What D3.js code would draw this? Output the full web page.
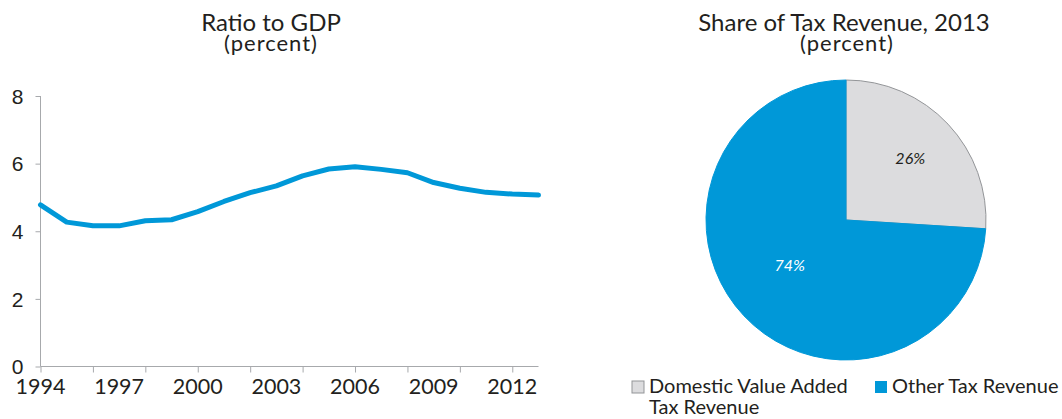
<!DOCTYPE html>
<html>
<head>
<meta charset="utf-8">
<script src="https://d3js.org/d3.v7.min.js"></script>
<style>
  body { margin: 0; background: #fff; font-family: Lato, "Open Sans", sans-serif; }
  text { fill: #231f20; }
</style>
</head>
<body>
<svg id="chart" width="1062" height="419"></svg>
<script>
// line chart data: tax revenue ratio to GDP (percent)
var years = [1994, 1995, 1996, 1997, 1998, 1999, 2000, 2001, 2002, 2003,
             2004, 2005, 2006, 2007, 2008, 2009, 2010, 2011, 2012, 2013];
var ratio = [4.78, 4.27, 4.16, 4.16, 4.31, 4.34, 4.58, 4.88, 5.14, 5.34,
             5.64, 5.84, 5.91, 5.83, 5.73, 5.44, 5.27, 5.15, 5.10, 5.07];
var yTicks = [0, 2, 4, 6, 8];
var xLabelYears = [1994, 1997, 2000, 2003, 2006, 2009, 2012];
var xTickYears = [1994, 1996, 1998, 2000, 2002, 2004, 2006, 2008, 2010, 2012];

// pie data: share of tax revenue 2013
var pieLabels = ["Domestic Value Added Tax Revenue", "Other Tax Revenue"];
var pieValues = [26, 74];
var pieColors = ["#dcdcde", "#0098d8"];

var svg = d3.select("#chart");

// ---- left: line chart ----
var margin = {top: 96, left: 40.5};
var width = 498, height = 270.5;

var g = svg.append("g")
    .attr("transform", "translate(" + margin.left + "," + margin.top + ")");

var x = d3.scaleLinear().domain([1994, 2013]).range([0, width]);
var y = d3.scaleLinear().domain([0, 8]).range([height, 0]);

// y axis
var yAxis = g.append("g")
    .call(d3.axisLeft(y).tickValues(yTicks).tickSize(5).tickPadding(12).tickFormat(d3.format("d")));
yAxis.select(".domain").attr("stroke", "#a7a9ac").attr("d", "M0,0V" + height);
yAxis.selectAll(".tick line").attr("stroke", "#a7a9ac");
yAxis.selectAll("text").style("font-size", "21px").attr("fill", "#231f20")
    .attr("dy", "0.34em");

// x axis ticks
var xAxis = g.append("g")
    .attr("transform", "translate(0," + height + ")")
    .call(d3.axisBottom(x).tickValues(xTickYears).tickSize(6).tickFormat(""));
xAxis.select(".domain").attr("stroke", "#a7a9ac").attr("d", "M0,0H" + width);
xAxis.selectAll(".tick line").attr("stroke", "#a7a9ac");

// x labels every third year
g.append("g").selectAll("text")
  .data(xLabelYears)
  .enter()
  .append("text")
    .attr("x", function(d) { return x(d); })
    .attr("y", height + 27)
    .attr("text-anchor", "middle")
    .style("font-size", "21.5px")
    .text(function(d) { return d; });

// the line
var line = d3.line()
    .x(function(d, i) { return x(years[i]); })
    .y(function(d) { return y(d); });

g.append("path")
    .datum(ratio)
    .attr("fill", "none")
    .attr("stroke", "#0098d8")
    .attr("stroke-width", 5)
    .attr("stroke-linejoin", "round")
    .attr("stroke-linecap", "round")
    .attr("d", line);

// titles
svg.append("text").attr("x", 271).attr("y", 31).attr("text-anchor", "middle")
    .style("font-size", "24px").text("Ratio to GDP");
svg.append("text").attr("x", 271).attr("y", 51).attr("text-anchor", "middle")
    .style("font-size", "22px").style("letter-spacing", "1px").text("(percent)");

// ---- right: pie chart ----
var cx = 846, cy = 220, r = 140;
var pg = svg.append("g").attr("transform", "translate(" + cx + "," + cy + ")");

var pie = d3.pie().sort(null).value(function(d) { return d; });
var arc = d3.arc().innerRadius(0).outerRadius(r);
var arcs = pie(pieValues);

pg.selectAll("path")
  .data(arcs)
  .enter()
  .append("path")
    .attr("d", arc)
    .attr("fill", function(d, i) { return pieColors[i]; })
    .attr("stroke", function(d, i) { return i == 0 ? "#939598" : "#0098d8"; })
    .attr("stroke-width", 1);

var labelArc = d3.arc().innerRadius(r * 0.6).outerRadius(r * 0.6);
var labelShift = [[3, -4], [5, -12]];
pg.selectAll(".plabel")
  .data(arcs)
  .enter()
  .append("text")
    .attr("class", "plabel")
    .attr("transform", function(d, i) {
      var c = labelArc.centroid(d);
      return "translate(" + (c[0] + labelShift[i][0]) + "," + (c[1] + labelShift[i][1]) + ")";
    })
    .attr("text-anchor", "middle")
    .attr("dy", "0.35em")
    .style("font-size", "16px")
    .style("font-style", "italic")
    .style("fill", function(d, i) { return i == 0 ? "#231f20" : "#ffffff"; })
    .text(function(d) { return d.data + "%"; });

svg.append("text").attr("x", 844).attr("y", 31).attr("text-anchor", "middle")
    .style("font-size", "24px").text("Share of Tax Revenue, 2013");
svg.append("text").attr("x", 847).attr("y", 51).attr("text-anchor", "middle")
    .style("font-size", "22px").style("letter-spacing", "1px").text("(percent)");

// legend
var legendX = [632, 875];
var lg = svg.append("g");
pieLabels.forEach(function(lbl, i) {
  lg.append("rect")
    .attr("x", legendX[i]).attr("y", 381)
    .attr("width", 12).attr("height", 12)
    .attr("fill", pieColors[i])
    .attr("stroke", i == 0 ? "#939598" : "none");
  var t = lg.append("text")
    .attr("x", legendX[i] + 17).attr("y", 393)
    .style("font-size", "20px");
  if (i == 0) {
    t.append("tspan").attr("x", legendX[i] + 17).text("Domestic Value Added");
    t.append("tspan").attr("x", legendX[i] + 17).attr("dy", 21).text("Tax Revenue");
  } else {
    t.text(lbl);
  }
});
</script>
</body>
</html>
